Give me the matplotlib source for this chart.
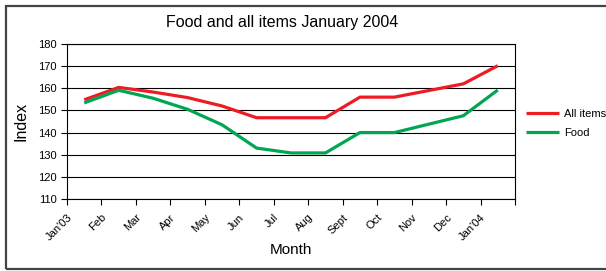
import matplotlib
matplotlib.use("Agg")
import matplotlib.pyplot as plt
import matplotlib.transforms as mtransforms
from matplotlib.patches import Rectangle
import numpy as np

plt.rcParams['font.family'] = ['Liberation Sans', 'DejaVu Sans']

# Index values
months = ["Jan'03", "Feb", "Mar", "Apr", "May", "Jun", "Jul", "Aug",
          "Sept", "Oct", "Nov", "Dec", "Jan'04"]
all_items = [154.8, 160.4, 158.3, 155.8, 152.0, 146.7, 146.7, 146.7,
             156.0, 156.0, 159.0, 162.0, 170.2]
food = [153.4, 159.1, 155.5, 150.5, 143.5, 133.0, 130.8, 130.8,
        140.0, 140.0, 143.8, 147.6, 159.2]

fig = plt.figure(figsize=(6.06, 2.71), dpi=100)
ax = fig.add_axes([67/606, 1 - 199/271, 448/606, 155/271])

x = np.arange(len(months)) + 0.5
ax.plot(x, all_items, color='#ED1C24', lw=2.3, label='All items', solid_capstyle='butt')
ax.plot(x, food, color='#00A651', lw=2.3, label='Food', solid_capstyle='butt')

ax.set_xlim(0, len(months))
ax.set_ylim(110, 180)
ax.set_yticks(np.arange(110, 181, 10))
ax.yaxis.grid(True, color='black', lw=0.8)
ax.set_axisbelow(True)

ax.set_xticks(np.arange(len(months) + 1))
ax.set_xticklabels(months + [''], rotation=45, ha='right', va='top',
                   rotation_mode='anchor')
offset = mtransforms.ScaledTranslation(5/100, 0, fig.dpi_scale_trans)
for lab in ax.get_xticklabels():
    lab.set_transform(lab.get_transform() + offset)

ax.tick_params(axis='both', direction='out', length=4.5, width=0.8,
               labelsize=8, color='black')
ax.tick_params(axis='y', pad=3)
ax.tick_params(axis='x', pad=5)
for s in ax.spines.values():
    s.set_linewidth(0.8)
    s.set_color('black')

ax.set_xlabel("Month", fontsize=11)
ax.set_ylabel("Index", fontsize=11.5)
ax.xaxis.set_label_coords(0.5, (199 - 250) / 155)
ax.yaxis.set_label_coords((21 - 67) / 448, 0.5)
ax.xaxis.label.set_va('center')
ax.yaxis.label.set_va('center')

fig.text(282/606, 1 - 22/271, "Food and all items January 2004",
         ha='center', va='center', fontsize=11.5)

fig.legend(loc='center left', bbox_to_anchor=(526/606, 1 - 123.5/271),
           frameon=False, fontsize=8, handlelength=3, handletextpad=0.45,
           labelspacing=0.75, borderpad=0, borderaxespad=0)

fig.patches.append(Rectangle((6/606, 1 - 269/271), 1.0, 263/271,
                             transform=fig.transFigure, fill=False,
                             edgecolor='#444444', lw=1.6, clip_on=False))

fig.savefig("out.png", dpi=100)
